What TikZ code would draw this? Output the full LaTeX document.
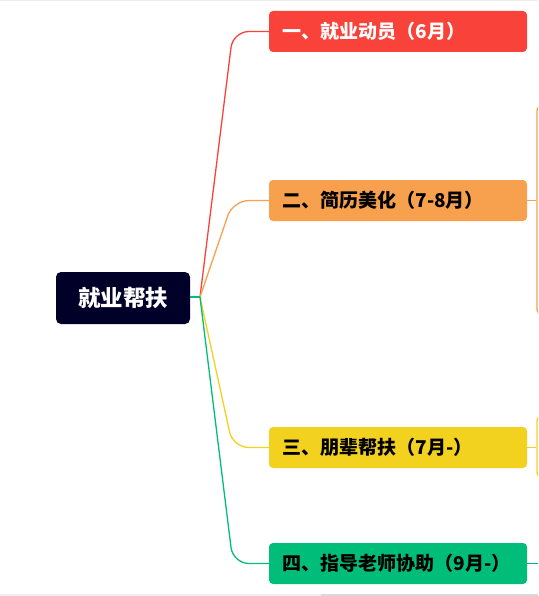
\documentclass[tikz,border=0pt]{standalone}
\usepackage{fontspec}
\usepackage{tikz}
\usetikzlibrary{positioning,calc}
\newfontfamily\cjk{Noto Sans CJK SC}
\definecolor{mmRoot}{RGB}{0,0,40}
\definecolor{mmRed}{RGB}{249,66,58}
\definecolor{mmOrange}{RGB}{247,160,77}
\definecolor{mmYellow}{RGB}{242,210,31}
\definecolor{mmGreen}{RGB}{0,190,122}
\tikzset{
  mmRootBox/.style={fill=mmRoot, rounded corners=5pt, text=white,
    minimum width=134pt, minimum height=52pt, inner sep=0pt,
    font=\cjk\fontsize{22.5}{25}\selectfont\bfseries},
  mmTopic/.style={rounded corners=4pt, minimum width=258pt, minimum height=41pt,
    text width=231pt, align=left, inner xsep=13.5pt, inner ysep=0pt,
    font=\cjk\fontsize{19}{22}\selectfont\bfseries},
  %% partial child boxes at the right edge
  mmSub/.style={draw=#1, fill=white, line width=1.3pt, rounded corners=6pt,
    minimum width=120pt, inner sep=0pt},
  %% branch lines
  mmBranch/.style={draw=#1, line width=1.3pt, rounded corners=16pt},
}

\begin{document}
\begin{tikzpicture}[x=1pt, y=-1pt]
\useasboundingbox (0,0) rectangle (538,596);
\clip (0,0) rectangle (538,596);

\fill[gray!14] (0,0) rectangle (538,1.5);
\fill[gray!12] (0,594) rectangle (321,596);
\fill[gray!30] (321,593.5) rectangle (538,596);

\node[mmRootBox] (root) at (123,298) {就业帮扶};

\node[mmTopic, fill=mmRed, text=white] (t1) at (398,31.5)  {一、就业动员（6月）};
\node[mmTopic, fill=mmOrange]          (t2) at (398,200.5) {二、简历美化（7-8月）};
\node[mmTopic, fill=mmYellow]          (t3) at (398,447.5) {三、朋辈帮扶（7月-）};
\node[mmTopic, fill=mmGreen]           (t4) at (398,563.5) {四、指导老师协助（9月-）};

\node[mmSub=mmOrange, minimum height=210pt] (s2) at (597,210) {};
\node[mmSub=mmYellow, minimum height=63pt]  (s3) at (597,446.5) {};
\coordinate (g4) at (545,563.5);

\coordinate (hub) at (200,297);
\coordinate (kx) at (233,0);

\draw[mmBranch=mmRed]    (hub) -- (kx |- t1.west) -- (t1.west);
\draw[mmBranch=mmOrange] (hub) -- (kx |- t2.west) -- (t2.west);
\draw[mmBranch=mmYellow] (hub) -- (kx |- t3.west) -- (t3.west);
\draw[mmBranch=mmGreen]  (hub) -- (kx |- t4.west) -- (t4.west);
\draw[mmBranch=mmGreen]  (root.east |- hub) -- (hub);

\draw[mmBranch=mmOrange] (t2.east) -- (t2.east -| s2.west);
\draw[mmBranch=mmYellow] (t3.east) -- (t3.east -| s3.west);
\draw[mmBranch=mmGreen]  (t4.east) -- (g4);
\end{tikzpicture}
\end{document}
